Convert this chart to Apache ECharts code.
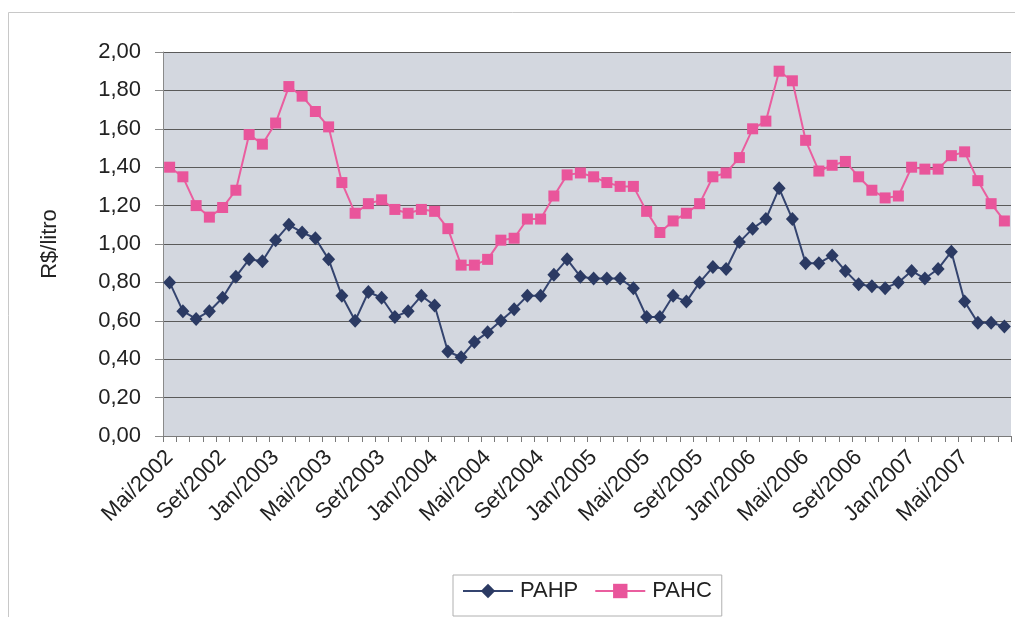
<!DOCTYPE html>
<html>
<head>
<meta charset="utf-8">
<script src="https://cdn.jsdelivr.net/npm/echarts@6/dist/echarts.min.js"></script>
<style>
html,body{margin:0;padding:0;background:#fff;}
#c{width:1015px;height:617px;}
</style>
</head>
<body>
<div id="c"></div>
<script>
const categories = [
 'Mai/2002','Jun/2002','Jul/2002','Ago/2002','Set/2002','Out/2002','Nov/2002','Dez/2002',
 'Jan/2003','Fev/2003','Mar/2003','Abr/2003','Mai/2003','Jun/2003','Jul/2003','Ago/2003','Set/2003','Out/2003','Nov/2003','Dez/2003',
 'Jan/2004','Fev/2004','Mar/2004','Abr/2004','Mai/2004','Jun/2004','Jul/2004','Ago/2004','Set/2004','Out/2004','Nov/2004','Dez/2004',
 'Jan/2005','Fev/2005','Mar/2005','Abr/2005','Mai/2005','Jun/2005','Jul/2005','Ago/2005','Set/2005','Out/2005','Nov/2005','Dez/2005',
 'Jan/2006','Fev/2006','Mar/2006','Abr/2006','Mai/2006','Jun/2006','Jul/2006','Ago/2006','Set/2006','Out/2006','Nov/2006','Dez/2006',
 'Jan/2007','Fev/2007','Mar/2007','Abr/2007','Mai/2007','Jun/2007','Jul/2007','Ago/2007'
];
const PAHP = [0.80,0.65,0.61,0.65,0.72,0.83,0.92,0.91,1.02,1.10,
 1.06,1.03,0.92,0.73,0.60,0.75,0.72,0.62,0.65,0.73,
 0.68,0.44,0.41,0.49,0.54,0.60,0.66,0.73,0.73,0.84,
 0.92,0.83,0.82,0.82,0.82,0.77,0.62,0.62,0.73,0.70,
 0.80,0.88,0.87,1.01,1.08,1.13,1.29,1.13,0.90,0.90,
 0.94,0.86,0.79,0.78,0.77,0.80,0.86,0.82,0.87,0.96,
 0.70,0.59,0.59,0.57];
const PAHC = [1.40,1.35,1.20,1.14,1.19,1.28,1.57,1.52,1.63,1.82,
 1.77,1.69,1.61,1.32,1.16,1.21,1.23,1.18,1.16,1.18,
 1.17,1.08,0.89,0.89,0.92,1.02,1.03,1.13,1.13,1.25,
 1.36,1.37,1.35,1.32,1.30,1.30,1.17,1.06,1.12,1.16,
 1.21,1.35,1.37,1.45,1.60,1.64,1.90,1.85,1.54,1.38,
 1.41,1.43,1.35,1.28,1.24,1.25,1.40,1.39,1.39,1.46,
 1.48,1.33,1.21,1.12];
const yTicks = {min: 0, max: 2, step: 0.2};
const yName = 'R$/litro';
const seriesNames = ['PAHP', 'PAHC'];

const font = 'Liberation Sans, Arial, sans-serif';
const chart = echarts.init(document.getElementById('c'), null, {renderer: 'canvas'});
chart.setOption({
  animation: false,
  backgroundColor: '#ffffff',
  graphic: [{
    type: 'rect', z: -10, silent: true,
    shape: {x: 8.5, y: 12.5, width: 1100, height: 700},
    style: {fill: 'none', stroke: '#c8c8c8', lineWidth: 1}
  }],
  grid: {left: 163, right: 4, top: 52, bottom: 181, show: true,
         backgroundColor: '#d3d7df', borderWidth: 0},
  legend: {
    data: seriesNames,
    left: 453, top: 575,
    padding: [5, 10, 14, 9],
    itemWidth: 50, itemHeight: 18, itemGap: 16,
    borderColor: '#b0b0b0', borderWidth: 1,
    textStyle: {fontFamily: font, fontSize: 22, color: '#222', padding: [0,0,0,2]}
  },
  xAxis: {
    type: 'category', data: categories, boundaryGap: true,
    axisLine: {lineStyle: {color: '#7a7a7a', width: 1}},
    axisTick: {show: true, interval: 0, length: 6, lineStyle: {color: '#7a7a7a'}},
    axisLabel: {interval: 3, rotate: 45, margin: 18, fontFamily: font, fontSize: 22, color: '#222'},
    splitLine: {show: false}
  },
  yAxis: {
    type: 'value', min: yTicks.min, max: yTicks.max, interval: yTicks.step,
    name: yName, nameLocation: 'middle', nameGap: 102, nameRotate: 90,
    nameTextStyle: {fontFamily: font, fontSize: 22, color: '#222'},
    axisLine: {show: true, lineStyle: {color: '#8a8a8a', width: 1}},
    axisTick: {show: true, length: 8, lineStyle: {color: '#8a8a8a'}},
    axisLabel: {margin: 22, fontFamily: font, fontSize: 22, color: '#222',
      formatter: v => v.toFixed(2).replace('.', ',')},
    splitLine: {show: true, lineStyle: {color: '#5a5a5a', width: 1}}
  },
  series: [
    {name: seriesNames[0], type: 'line', data: PAHP,
     symbol: 'diamond', symbolSize: [13, 14], showAllSymbol: true,
     itemStyle: {color: '#2b3a63'}, lineStyle: {color: '#34446f', width: 2}},
    {name: seriesNames[1], type: 'line', data: PAHC,
     symbol: 'rect', symbolSize: 11, showAllSymbol: true,
     itemStyle: {color: '#e9559b'}, lineStyle: {color: '#ea5e9f', width: 2}}
  ]
});
</script>
</body>
</html>
